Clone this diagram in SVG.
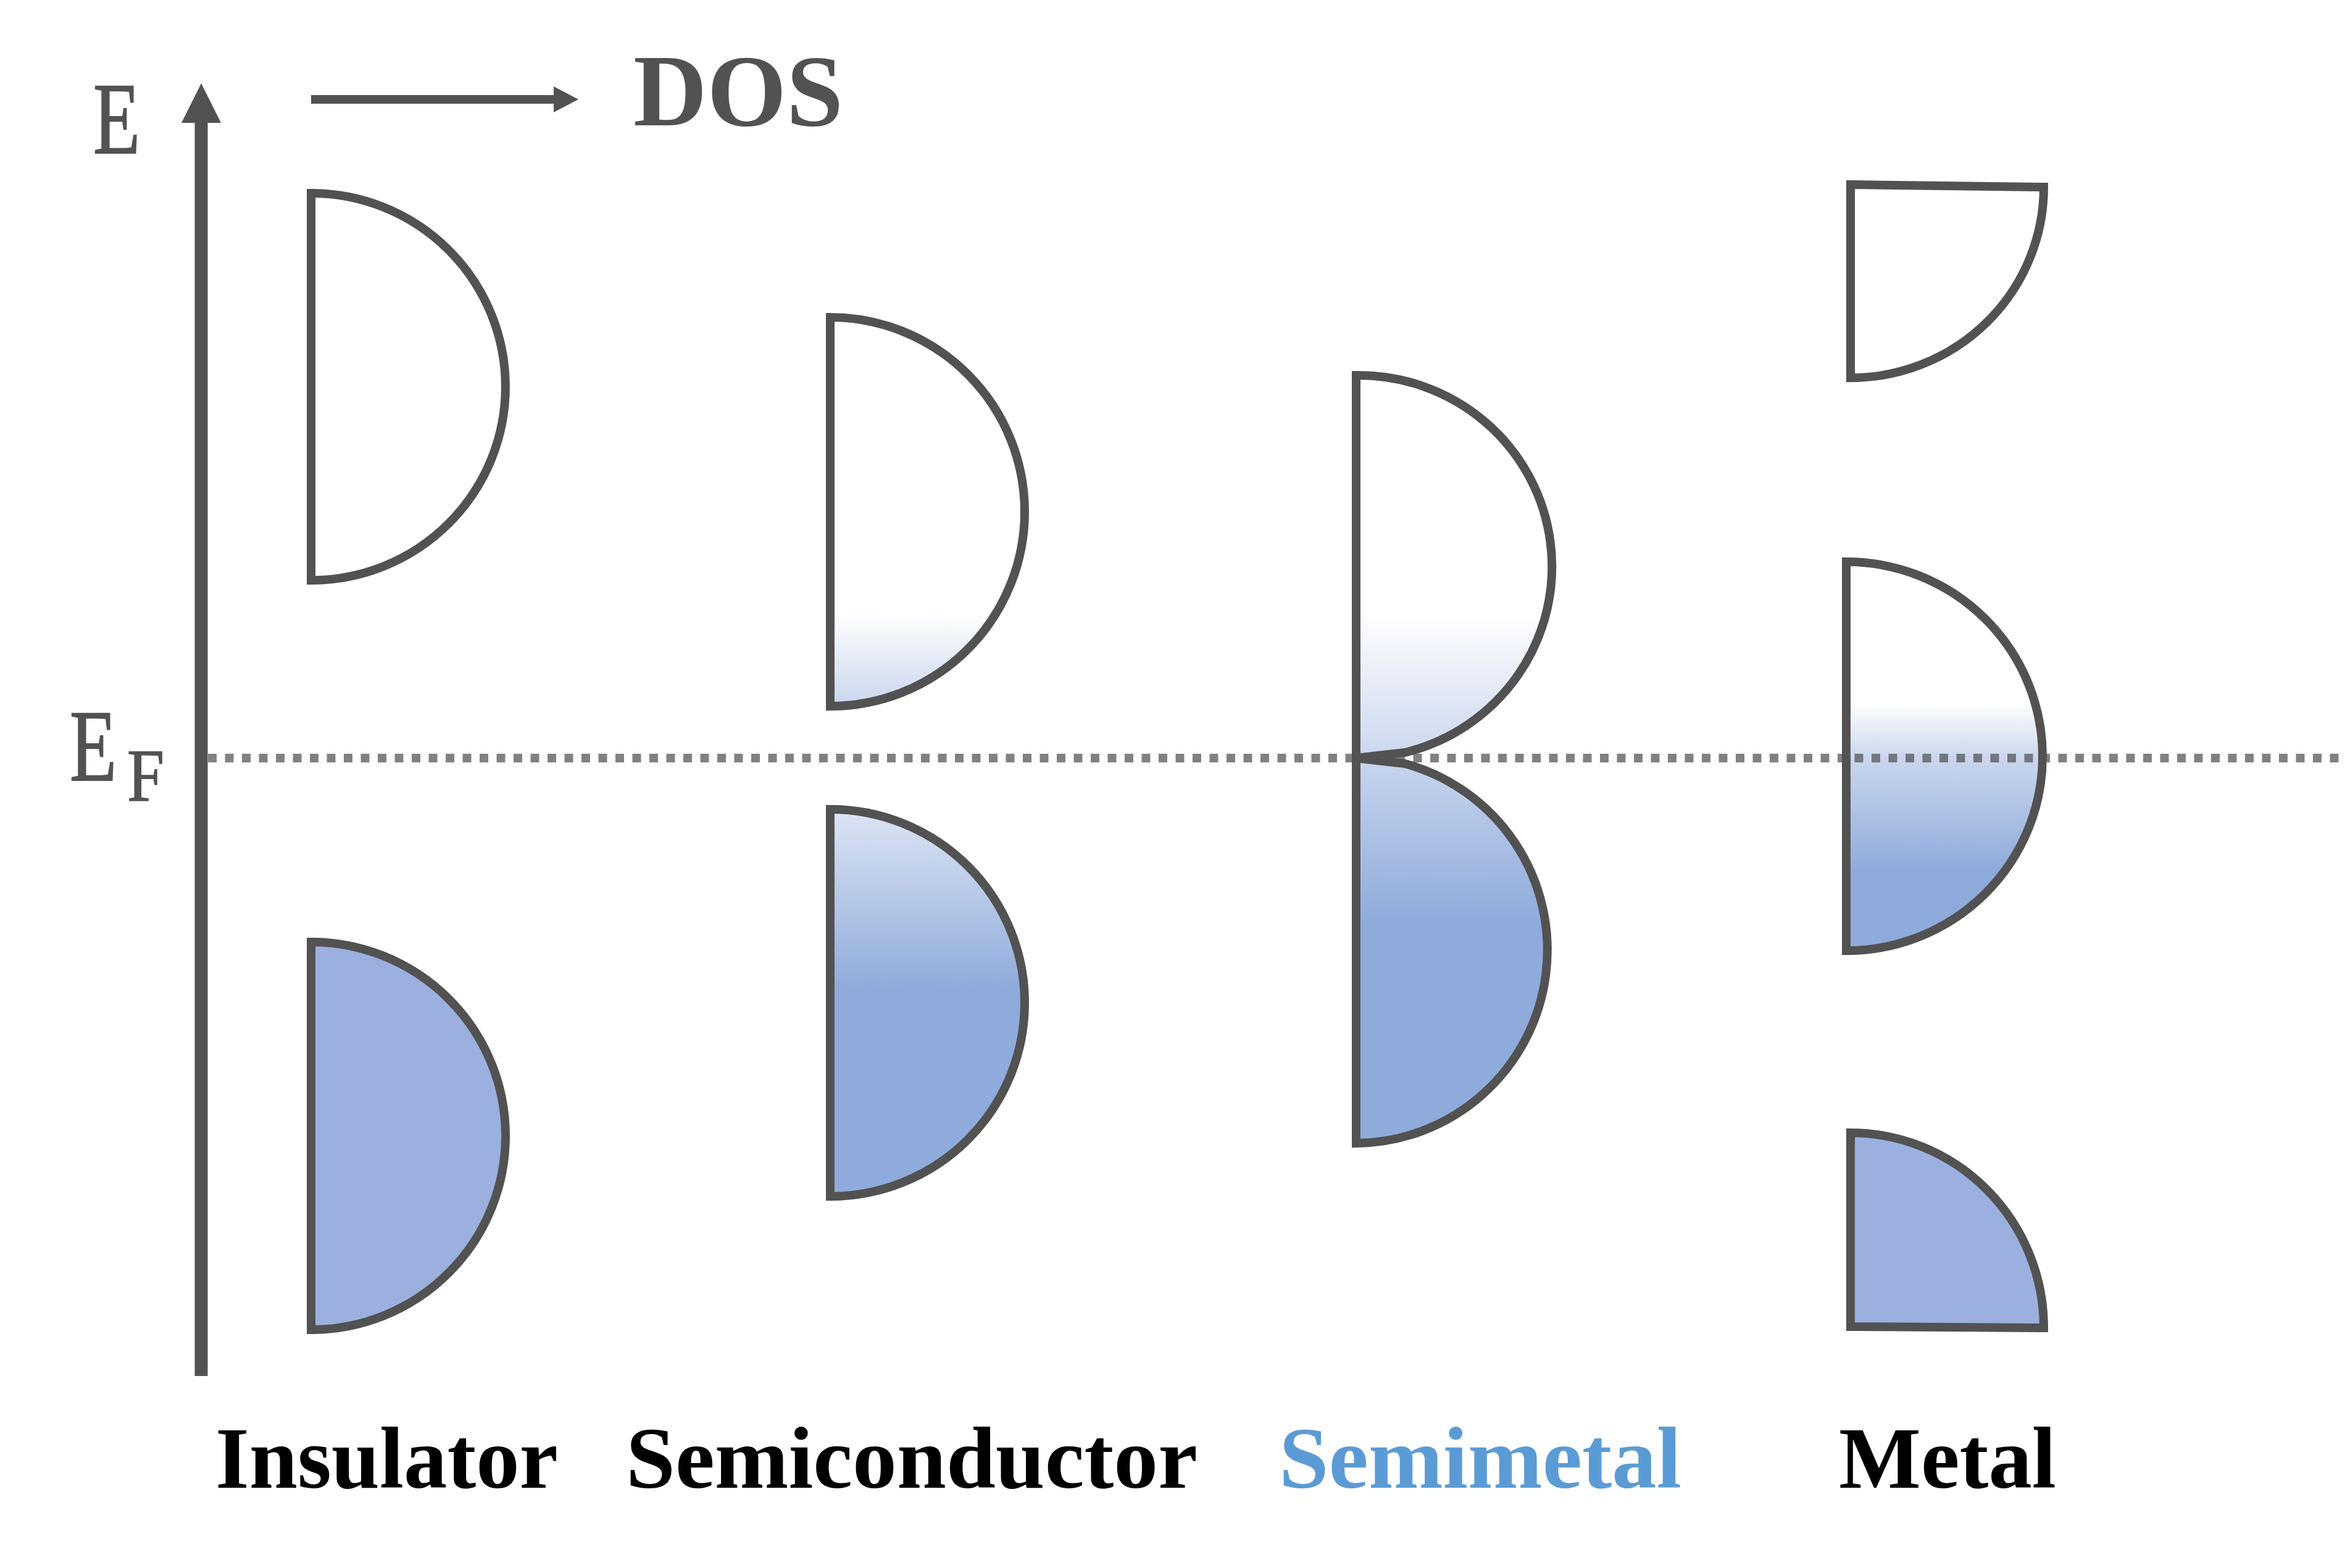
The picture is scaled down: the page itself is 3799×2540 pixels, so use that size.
<svg xmlns="http://www.w3.org/2000/svg" width="3799" height="2540" viewBox="0 0 3799 2540">
<defs>
<style>
.band{stroke:#525252;stroke-width:14;stroke-linejoin:miter;stroke-miterlimit:20}
.lbl{font-family:"Liberation Serif","Times New Roman",serif;font-weight:bold;font-size:142px}
.ax{font-family:"Liberation Serif","Times New Roman",serif;fill:#525252}
</style>
<linearGradient id="gSCu" x1="0" y1="0" x2="0" y2="1">
<stop offset="0" stop-color="#ffffff"/><stop offset="0.76" stop-color="#ffffff"/><stop offset="1" stop-color="#C9D6EE"/>
</linearGradient>
<linearGradient id="gSCl" x1="0" y1="0" x2="0" y2="1">
<stop offset="0" stop-color="#DCE4F4"/><stop offset="0.46" stop-color="#8FABDB"/><stop offset="1" stop-color="#8FABDB"/>
</linearGradient>
<linearGradient id="gSMu" x1="0" y1="0" x2="0" y2="1">
<stop offset="0" stop-color="#ffffff"/><stop offset="0.62" stop-color="#ffffff"/><stop offset="1" stop-color="#CAD7EE"/>
</linearGradient>
<linearGradient id="gSMl" x1="0" y1="0" x2="0" y2="1">
<stop offset="0" stop-color="#C8D5EE"/><stop offset="0.42" stop-color="#8FABDB"/><stop offset="1" stop-color="#8FABDB"/>
</linearGradient>
<linearGradient id="gMm" x1="0" y1="0" x2="0" y2="1">
<stop offset="0" stop-color="#ffffff"/><stop offset="0.36" stop-color="#ffffff"/><stop offset="0.505" stop-color="#CAD6EE"/><stop offset="0.79" stop-color="#8FABDB"/><stop offset="1" stop-color="#8FABDB"/>
</linearGradient>
</defs>
<rect width="3799" height="2540" fill="#ffffff"/>

<g id="axes">
<line x1="326" y1="196" x2="326" y2="2229" stroke="#525252" stroke-width="21"/>
<polygon points="294,199 358,199 326,135" fill="#525252"/>
<line x1="504" y1="161" x2="900" y2="161" stroke="#525252" stroke-width="14"/>
<polygon points="897,140 937,161 897,182" fill="#525252"/>
<text class="ax" transform="translate(151,248) scale(0.75,1)" font-size="166" stroke="#525252" stroke-width="2">E</text>
<text class="ax" x="1026" y="203" font-size="165" font-weight="bold" textLength="340" lengthAdjust="spacingAndGlyphs">DOS</text>
<text class="ax" transform="translate(113,1264) scale(0.75,1)" font-size="166" stroke="#525252" stroke-width="2">E</text>
<text class="ax" transform="translate(206,1297) scale(0.9,1)" font-size="120" stroke="#525252" stroke-width="1.5">F</text>
</g>

<g id="insulator">
<path class="band" fill="#ffffff" d="M504,313 A315,313.5 0 0 1 504,940 Z"/>
<path class="band" fill="#9BB0DE" d="M504,1526 A315,314 0 0 1 504,2154 Z"/>
</g>

<g id="semiconductor">
<path class="band" fill="url(#gSCu)" d="M1345,514 A315,315 0 0 1 1345,1144 Z"/>
<path class="band" fill="url(#gSCl)" d="M1345,1311 A315,313.5 0 0 1 1345,1938 Z"/>
</g>

<g id="semimetal">
<path class="band" fill="url(#gSMu)" d="M2197,608 A313,310 0 0 1 2276,1219 L2197,1228 Z"/>
<path class="band" fill="url(#gSMl)" d="M2197,1228 L2276,1237 A313,313 0 0 1 2197,1852 Z"/>
</g>

<g id="metal">
<path class="band" fill="#ffffff" d="M2998,299 L3311,303 A313,309 0 0 1 2998,612 Z"/>
<path class="band" fill="url(#gMm)" d="M2991,910 A318,315 0 0 1 2991,1540 Z"/>
<path class="band" fill="#9BB0DE" d="M2998,1835 A313,316 0 0 1 3311,2151 L2998,2149 Z"/>
</g>

<g id="connectors">
<line x1="337" y1="1228" x2="3799" y2="1228" stroke="#525252" stroke-opacity="0.73" stroke-width="14" stroke-dasharray="14 13.5"/>
</g>

<g id="labels">
<text class="lbl" x="349" y="2410" fill="#000000" textLength="555" lengthAdjust="spacingAndGlyphs">Insulator</text>
<text class="lbl" x="1014" y="2410" fill="#000000" textLength="926" lengthAdjust="spacingAndGlyphs">Semiconductor</text>
<text class="lbl" x="2072" y="2410" fill="#5B9BD5" textLength="652" lengthAdjust="spacingAndGlyphs">Semimetal</text>
<text class="lbl" x="2979" y="2410" fill="#000000" textLength="352" lengthAdjust="spacingAndGlyphs">Metal</text>
</g>
</svg>
